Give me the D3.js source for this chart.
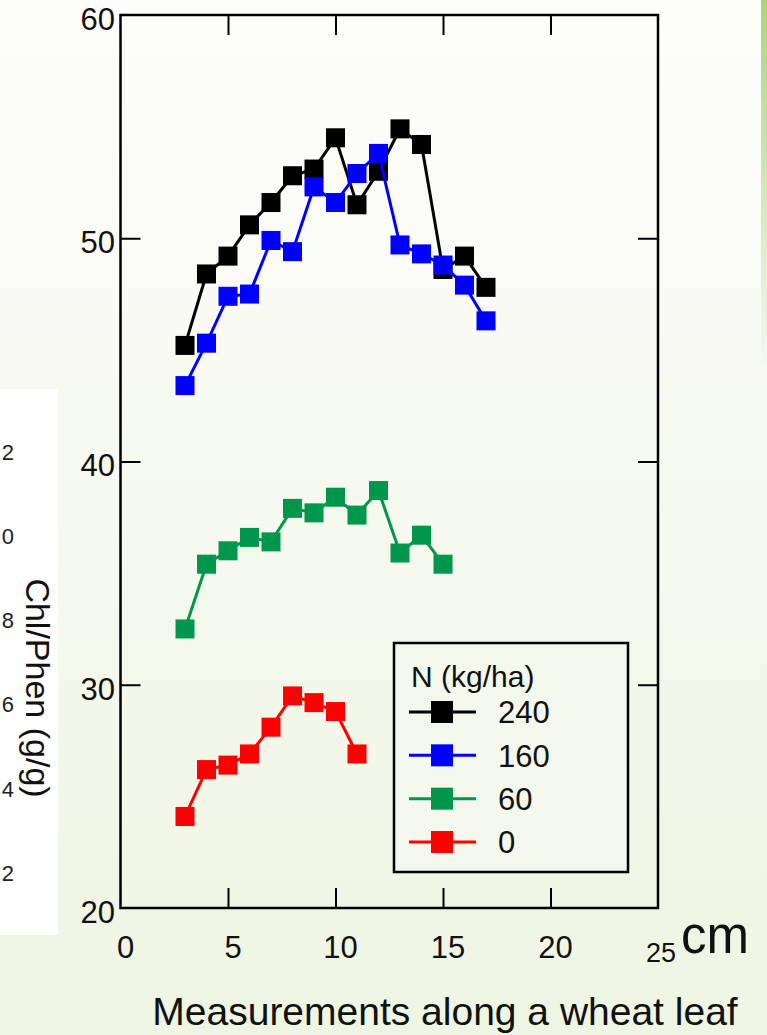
<!DOCTYPE html>
<html lang="en">
<head>
  <meta charset="UTF-8">
  <title>Chl/Phen along a wheat leaf</title>
  <style>
    body { margin: 0; background: #f7f9f1; }
    svg { display: block; font-family: 'Liberation Sans', Arial, sans-serif; }
    .tick-label { font-family: 'Liberation Sans Narrow', 'Arial Narrow', 'Liberation Sans', sans-serif; }
  </style>
  <script src="https://d3js.org/d3.v7.min.js"></script>
</head>
<body>
  <div id="chart"></div>
  <script>
    // data
    const positions = [3, 4, 5, 6, 7, 8, 9, 10, 11, 12, 13, 14, 15, 16, 17];
    const n240 = [45.2, 48.4, 49.2, 50.6, 51.6, 52.8, 53.1, 54.5, 51.5, 53.0, 54.9, 54.2, 48.6, 49.2, 47.8];
    const n160 = [43.4, 45.3, 47.4, 47.5, 49.9, 49.4, 52.3, 51.6, 52.9, 53.8, 49.7, 49.3, 48.8, 47.9, 46.3];
    const n60  = [32.5, 35.4, 36.0, 36.6, 36.4, 37.9, 37.7, 38.4, 37.6, 38.7, 35.9, 36.7, 35.4];
    const n0   = [24.1, 26.2, 26.4, 26.9, 28.1, 29.5, 29.2, 28.8, 26.9];
    const seriesNames  = ['240', '160', '60', '0'];
    const seriesColors = ['#000000', '#0000ff', '#00964c', '#ff0000'];
    const xTicks = [0, 5, 10, 15, 20, 25];
    const yTicks = [20, 30, 40, 50, 60];
    const ghostTicks = ['2', '0', '8', '6', '4', '2'];

    const series = [n240, n160, n60, n0].map((vals, i) => ({
      name: seriesNames[i], color: seriesColors[i],
      pts: vals.map((v, j) => [positions[j], v])
    }));

    const W = 767, H = 1035;
    const svg = d3.select('#chart').append('svg').attr('width', W).attr('height', H);

    const defs = svg.append('defs');
    const bg = defs.append('linearGradient').attr('id', 'bg').attr('x1', 0).attr('y1', 0).attr('x2', 0).attr('y2', 1);
    bg.append('stop').attr('offset', '0%').attr('stop-color', '#fdfdfb');
    bg.append('stop').attr('offset', '100%').attr('stop-color', '#eef5e2');
    const strip = defs.append('linearGradient').attr('id', 'strip').attr('x1', 0).attr('y1', 0).attr('x2', 0).attr('y2', 1);
    strip.append('stop').attr('offset', '0%').attr('stop-color', '#a9d57a').attr('stop-opacity', 1);
    strip.append('stop').attr('offset', '100%').attr('stop-color', '#a9d57a').attr('stop-opacity', 0);

    svg.append('rect').attr('width', W).attr('height', H).attr('fill', 'url(#bg)');
    svg.append('rect').attr('x', 761).attr('y', 0).attr('width', 6).attr('height', 380).attr('fill', 'url(#strip)');

    // remains of the slide behind
    svg.append('rect').attr('x', 0).attr('y', 389).attr('width', 58).attr('height', 546).attr('fill', '#ffffff');
    const ghostY = d3.scaleLinear().domain([0, ghostTicks.length - 1]).range([452, 873]);
    svg.append('g').selectAll('text').data(ghostTicks).join('text')
      .attr('x', 14).attr('y', (d, i) => ghostY(i)).attr('dy', '0.35em')
      .attr('text-anchor', 'end').attr('font-size', 22).attr('fill', '#222')
      .text(d => d);
    svg.append('text')
      .attr('transform', 'translate(38,688) rotate(90)')
      .attr('text-anchor', 'middle').attr('dy', '0.35em')
      .attr('font-size', 34).attr('fill', '#111')
      .text('Chl/Phen (g/g)');

    const x = d3.scaleLinear().domain([0, 25]).range([120.5, 658]);
    const y = d3.scaleLinear().domain([20, 60]).range([908, 15]);

    // frame
    svg.append('rect')
      .attr('x', x(0)).attr('y', y(60))
      .attr('width', x(25) - x(0)).attr('height', y(20) - y(60))
      .attr('fill', 'none').attr('stroke', '#000').attr('stroke-width', 2.5);

    const tickStyle = g => {
      g.select('.domain').remove();
      g.selectAll('.tick line').attr('stroke', '#000').attr('stroke-width', 2);
    };

    // inward ticks on all four sides
    svg.append('g').attr('transform', `translate(0,${y(20)})`)
      .call(d3.axisBottom(x).tickValues([5, 10, 15, 20]).tickSize(-20).tickFormat(''))
      .call(tickStyle);
    svg.append('g').attr('transform', `translate(0,${y(60)})`)
      .call(d3.axisTop(x).tickValues([5, 10, 15, 20]).tickSize(-20).tickFormat(''))
      .call(tickStyle);
    svg.append('g').attr('transform', `translate(${x(0)},0)`)
      .call(d3.axisLeft(y).tickValues([30, 40, 50]).tickSize(-20).tickFormat(''))
      .call(tickStyle);
    svg.append('g').attr('transform', `translate(${x(25)},0)`)
      .call(d3.axisRight(y).tickValues([30, 40, 50]).tickSize(-20).tickFormat(''))
      .call(tickStyle);

    // tick labels
    svg.append('g').selectAll('text').data(yTicks).join('text')
      .attr('class', 'tick-label')
      .attr('x', 115).attr('y', d => y(d) + 4).attr('dy', '0.35em')
      .attr('text-anchor', 'end').attr('font-size', 31).attr('fill', '#111')
      .text(d => d);
    svg.append('g').selectAll('text').data(xTicks).join('text')
      .attr('class', d => d === 25 ? null : 'tick-label')
      .attr('x', d => x(d) + (d === 25 ? 3 : 5))
      .attr('y', d => d === 25 ? 962 : 958)
      .attr('text-anchor', 'middle')
      .attr('font-size', d => d === 25 ? 27 : 31).attr('fill', '#111')
      .text(d => d);
    svg.append('text').attr('x', 681).attr('y', 953)
      .attr('font-size', 51).attr('fill', '#111').text('cm');
    svg.append('text').attr('x', 445).attr('y', 1025)
      .attr('text-anchor', 'middle').attr('font-size', 39).attr('fill', '#111')
      .text('Measurements along a wheat leaf');

    // series
    const line = d3.line().x(d => x(d[0])).y(d => y(d[1]));
    const ms = 19;
    const sg = svg.append('g').selectAll('g').data(series).join('g');
    sg.append('path')
      .attr('d', d => line(d.pts))
      .attr('fill', 'none').attr('stroke', d => d.color).attr('stroke-width', 3);
    sg.selectAll('rect').data(d => d.pts.map(p => ({ p, color: d.color }))).join('rect')
      .attr('x', d => x(d.p[0]) - ms / 2).attr('y', d => y(d.p[1]) - ms / 2)
      .attr('width', ms).attr('height', ms).attr('fill', d => d.color);

    // legend
    const lg = svg.append('g').attr('transform', 'translate(394,643)');
    lg.append('rect').attr('width', 234).attr('height', 229)
      .attr('fill', '#f4f8ec').attr('stroke', '#000').attr('stroke-width', 2.5);
    lg.append('text').attr('x', 17).attr('y', 44)
      .attr('font-size', 30).attr('fill', '#111').text('N (kg/ha)');
    const ly = d3.scalePoint().domain(seriesNames).range([69, 199]);
    const items = lg.selectAll('g.item').data(series).join('g')
      .attr('class', 'item').attr('transform', d => `translate(0,${ly(d.name)})`);
    items.append('line').attr('x1', 15).attr('x2', 82)
      .attr('stroke', d => d.color).attr('stroke-width', 3);
    items.append('rect').attr('x', 37).attr('y', -11).attr('width', 22).attr('height', 22)
      .attr('fill', d => d.color);
    items.append('text').attr('x', 104).attr('dy', '0.36em')
      .attr('font-size', 31).attr('fill', '#111').text(d => d.name);
  </script>
</body>
</html>
